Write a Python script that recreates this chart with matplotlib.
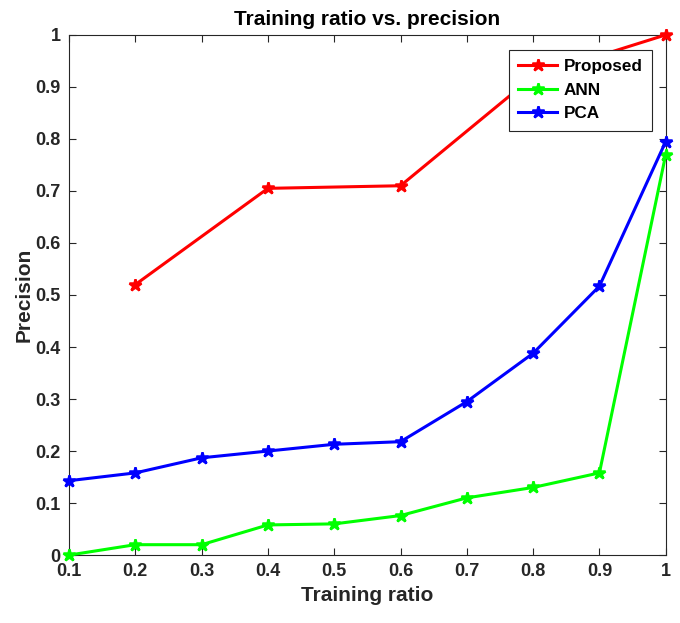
import numpy as np
import matplotlib
matplotlib.use('Agg')
import matplotlib.pyplot as plt

plt.rcParams['font.family'] = ['Liberation Sans', 'DejaVu Sans']
plt.rcParams['font.weight'] = 'bold'

# ── Data ──────────────────────────────────────────────
ratio_prop = [0.2, 0.4, 0.6, 0.8, 1.0]
proposed   = [0.52, 0.705, 0.71, 0.92, 1.0]

ratio_all  = [0.1, 0.2, 0.3, 0.4, 0.5, 0.6, 0.7, 0.8, 0.9, 1.0]
ann        = [0.0, 0.02, 0.02, 0.058, 0.06, 0.076, 0.11, 0.13, 0.158, 0.77]
pca        = [0.143, 0.158, 0.187, 0.2, 0.213, 0.218, 0.295, 0.388, 0.517, 0.795]

fig = plt.figure(figsize=(6.8, 6.23), dpi=100)
ax = fig.add_axes([0.1015, 0.109, 0.8775, 0.835])

style = dict(lw=2.2, marker='*', ms=9, mew=1.8, clip_on=False, zorder=3)
ax.plot(ratio_prop, proposed, color='#FF0000', label='Proposed', **style)
ax.plot(ratio_all, ann, color='#00FF00', label='ANN', **style)
ax.plot(ratio_all, pca, color='#0000FF', label='PCA', **style)

ax.set_xlim(0.1, 1)
ax.set_ylim(0, 1)
ax.set_xticks(np.arange(0.1, 1.01, 0.1))
ax.set_xticklabels(['0.1', '0.2', '0.3', '0.4', '0.5', '0.6', '0.7', '0.8', '0.9', '1'])
ax.set_yticks(np.arange(0, 1.01, 0.1))
ax.set_yticklabels(['0', '0.1', '0.2', '0.3', '0.4', '0.5', '0.6', '0.7', '0.8', '0.9', '1'])
ax.tick_params(direction='in', top=True, right=True, labelsize=13, length=5,
               color='#262626', labelcolor='#262626', pad=6)
for s in ax.spines.values():
    s.set_color('#262626')
    s.set_linewidth(0.8)

ax.set_title('Training ratio vs. precision', fontsize=15, fontweight='bold', pad=7)
ax.set_xlabel('Training ratio', fontsize=15, fontweight='bold', color='#262626', labelpad=4)
ax.set_ylabel('Precision', fontsize=15, fontweight='bold', color='#262626', labelpad=1)

leg = ax.legend(loc='upper right', bbox_to_anchor=(0.9765, 0.971), fontsize=12.3,
                fancybox=False, framealpha=1, edgecolor='#262626',
                handlelength=2.3, handletextpad=0.35, borderaxespad=0,
                labelspacing=0.5, borderpad=0.55)
leg.get_frame().set_linewidth(0.8)

fig.savefig('out.png', dpi=100)
